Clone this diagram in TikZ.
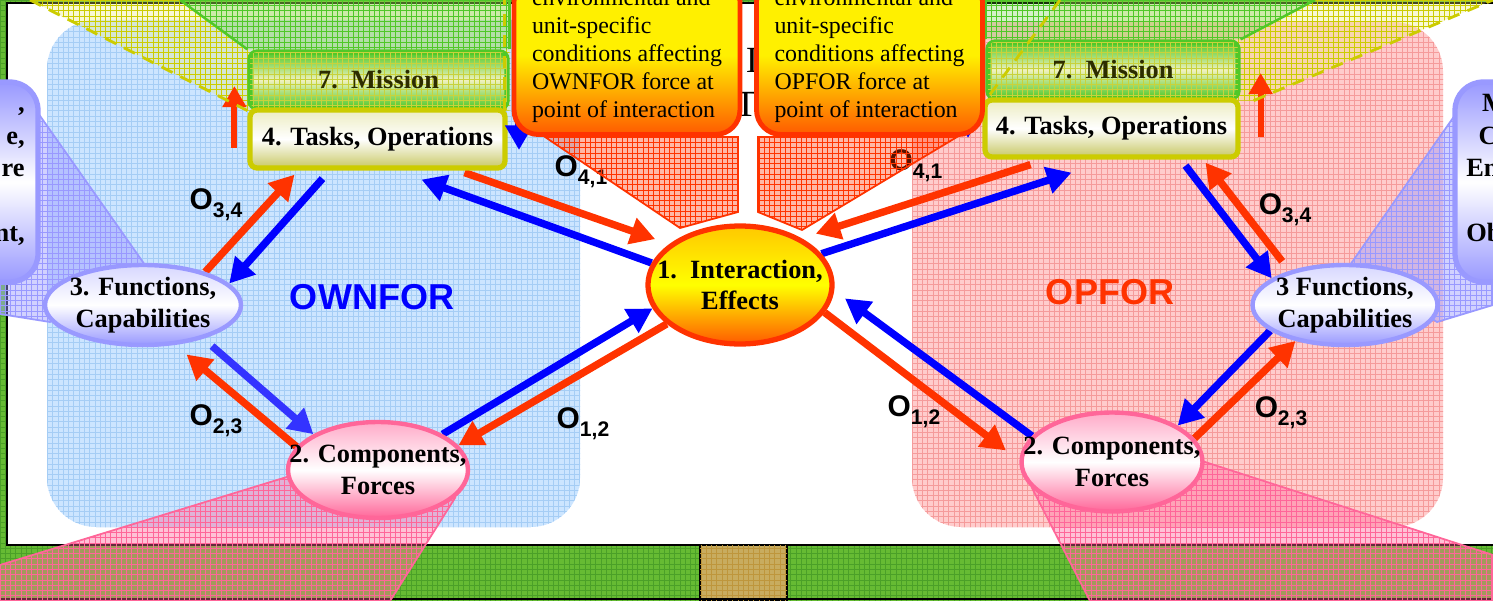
\documentclass[tikz,border=0pt]{standalone}
\usepackage{fontspec}
\setmainfont{Liberation Serif}
\setsansfont{Liberation Sans}
\usetikzlibrary{arrows.meta,shapes.geometric,patterns}
\definecolor{ofred}{RGB}{255,51,0}
\definecolor{ofblue}{RGB}{0,0,255}
\definecolor{ofblueb}{RGB}{51,51,255}
\definecolor{ownfill}{RGB}{204,229,255}
\definecolor{owngrid}{RGB}{165,205,245}
\definecolor{opfill}{RGB}{255,204,204}
\definecolor{opgrid}{RGB}{245,155,155}
\definecolor{lav}{RGB}{153,153,255}
\definecolor{lavlight}{RGB}{215,215,255}
\definecolor{pinkb}{RGB}{255,102,153}
\definecolor{pinkl}{RGB}{255,170,200}
\definecolor{olivebd}{RGB}{204,204,0}
\definecolor{olivetop}{RGB}{236,236,192}
\definecolor{olivebot}{RGB}{200,200,100}
\definecolor{missgreen}{RGB}{80,200,40}
\definecolor{missmid}{RGB}{240,242,190}
\definecolor{missgrid}{RGB}{200,210,60}
\definecolor{misstext}{RGB}{45,45,0}
\definecolor{barg}{RGB}{102,187,51}
\definecolor{bargrid}{RGB}{75,160,40}
\definecolor{bartan}{RGB}{200,172,95}
\definecolor{bartangrid}{RGB}{190,150,60}
\definecolor{intop}{RGB}{255,200,0}
\definecolor{inbot}{RGB}{255,90,0}
\definecolor{noteyel}{RGB}{255,240,0}
\definecolor{ylw}{RGB}{235,235,110}
\pgfdeclarelayer{back}
\pgfdeclarelayer{arw}
\pgfdeclarelayer{front}
\pgfsetlayers{back,arw,main,front}
\newcommand{\olab}[1]{\sffamily\bfseries\fontsize{17}{17}\selectfont O\raisebox{-4.5pt}{\fontsize{12}{12}\selectfont #1}}
\newcommand{\zw}[1]{\makebox[0pt]{#1}}

\begin{document}
\begin{tikzpicture}[x=0.02cm, y=-0.02cm,
  arr/.style={line width=4.2pt, -{Triangle[length=14pt,width=15pt]}},
  redarr/.style={arr, draw=ofred},
  bluearr/.style={arr, draw=ofblue},
  uparr/.style={line width=3.5pt, draw=ofred, -{Triangle[length=12pt,width=13pt]}},
  grid fill/.style 2 args={fill=#1, postaction={pattern=grid, pattern color=#2}},
  bubble/.style={ellipse, inner sep=0pt, align=center, line width=2.5pt,
                 font=\fontsize{15}{18}\selectfont\bfseries},
  funcstyle/.style={draw=lav, top color=lavlight, bottom color=lav, middle color=white},
  compstyle/.style={draw=pinkb, top color=pinkl, bottom color=pinkb, middle color=white},
  missbox/.style={rectangle, rounded corners=4pt, draw=missgreen, line width=3pt,
                  top color=missgreen, bottom color=missgreen, middle color=missmid,
                  postaction={pattern=grid, pattern color=missgrid},
                  text=misstext, inner sep=0pt, font=\fontsize{15}{18}\selectfont\bfseries},
  taskbox/.style={rectangle, rounded corners=4pt, draw=olivebd, line width=3pt,
                  top color=olivetop, bottom color=olivebot, middle color=white,
                  inner sep=0pt, font=\fontsize{15}{18}\selectfont\bfseries},
  sidebox/.style={rectangle, rounded corners=16pt, draw=lav, line width=3pt,
                  top color=lav, bottom color=lav, middle color=white},
  sidetext/.style={inner sep=0pt, font=\fontsize{15}{18.4}\selectfont\bfseries},
  callout/.style={rectangle, rounded corners=14pt, draw=ofred, line width=2.8pt,
                  top color=noteyel, bottom color=inbot, middle color=noteyel,
                  align=left, minimum width=4.52cm, inner ysep=7pt,
                  font=\fontsize{13.6}{15.9}\selectfont},
  oname/.style={inner sep=0pt},
  sidename/.style={font=\sffamily\bfseries\fontsize{20.5}{20.5}\selectfont},
  ptrlav/.style={draw=lav, line width=1pt, fill=lav, fill opacity=.45,
                 postaction={pattern=grid, pattern color=lav, fill opacity=.6}},
  ptrpink/.style={draw=pinkb, line width=1pt, fill=pinkb, fill opacity=.4,
                  postaction={pattern=grid, pattern color=pinkb, fill opacity=.6}},
  ptrred/.style={draw=ofred, line width=1pt, fill=ofred, fill opacity=.35,
                 postaction={pattern=grid, pattern color=ofred, fill opacity=.5}},
  ptrylw/.style={fill=ylw, fill opacity=.3,
                 postaction={pattern=grid, pattern color=olivebd, fill opacity=.35}},
  ptrgrn/.style={fill=missgreen, fill opacity=.25,
                 postaction={pattern=grid, pattern color=missgreen, fill opacity=.35}},
  dashedge/.style={draw=olivebd, line width=1.6pt, dashed, dash pattern=on 7pt off 5pt},
  grnedge/.style={draw=missgreen, line width=1.4pt}]

\useasboundingbox (0,0) rectangle (1493,601);
\coordinate (top) at (0,0);

% levels
\node[bubble, draw=ofred, line width=3pt, top color=intop, bottom color=inbot, middle color=yellow,
      minimum width=3.68cm, minimum height=2.36cm] (inter) at (740,285) {\zw{1.~~Interaction,}\\\zw{Effects}};
\node[bubble, funcstyle, minimum width=3.92cm, minimum height=1.6cm] (funcL) at (143,305) {\zw{3. Functions,}\\\zw{Capabilities}};
\node[bubble, funcstyle, minimum width=3.7cm, minimum height=1.6cm] (funcR) at (1345,305) {\zw{3 Functions,}\\\zw{Capabilities}};
\node[bubble, compstyle, minimum width=3.6cm, minimum height=1.92cm] (compL) at (378,470) {\zw{2. Components,}\\\zw{Forces}};
\node[bubble, compstyle, minimum width=3.62cm, minimum height=1.98cm] (compR) at (1112,462) {\zw{2. Components,}\\\zw{Forces}};
\node[missbox, minimum width=5.14cm, minimum height=1.12cm] (missL) at (378.5,80) {7.~~Mission};
\node[taskbox, minimum width=5.1cm, minimum height=1.16cm] (taskL) at (377.5,139) {4. Tasks, Operations};
\node[missbox, minimum width=5cm, minimum height=1.12cm] (missR) at (1113,70) {7.~~Mission};
\node[taskbox, minimum width=5.06cm, minimum height=1.14cm] (taskR) at (1111.5,128.5) {4. Tasks, Operations};

\begin{pgfonlayer}{back}
\path[grid fill={barg}{bargrid}] (0,0) rectangle (1493,601);
\draw[line width=1.2pt, fill=white] (7,3) rectangle (1520,545);
\draw[line width=1.2pt, grid fill={bartan}{bartangrid}] (700,545) rectangle (787,601);
\draw[line width=1.2pt] (0,599) -- (1493,599);
\path[grid fill={ownfill}{owngrid}, rounded corners=28pt] (47,20) rectangle (580,527);
\path[grid fill={opfill}{opgrid}, rounded corners=28pt] (912,22) rectangle (1443,527);
\node[sidename, text=ofblue] (own) at (372,297) {OWNFOR};
\node[sidename, text=ofred] (opp) at (1110,292) {OPFOR};
\path[ptrlav] (38,113) -- (145,265) -- (50,322) -- (0,314) -- (0,282) -- cycle;
\path[ptrlav] (1455,115) -- (1350,265) -- (1437,322) -- (1493,305) -- (1493,282) -- cycle;
\path[ptrpink] (290,476) -- (0,565) -- (0,601) -- (390,601) -- (455,498) -- cycle;
\path[ptrpink] (1032,488) -- (1090,601) -- (1493,601) -- (1493,555) -- (1205,462) -- cycle;
\node[sidebox, minimum width=2cm, minimum height=4cm] (infoL) at (-12,182) {};
\node[sidebox, minimum width=2cm, minimum height=4cm] (infoR) at (1505,182) {};
\node[sidetext, anchor=north east, align=right] (infoLtxt) at (25,89)
  {\strut,\\\strut e,\\\strut re\\\strut\\\strut nt,};
\node[sidetext, anchor=north west, align=left] (infoRtxt) at (1466,89)
  {\strut\hspace*{9pt}M\\\strut\hspace*{7pt}C\\\strut En\\\strut\\\strut Ob};
\end{pgfonlayer}

\begin{pgfonlayer}{arw}
% callouts of the mission boxes
\path[ptrylw] (30,0) -- (missL.south west) -- (missL.south east) -- (missL.south east |- top) -- cycle;
\path[ptrgrn] (180,0) -- (missL.north west) -- (missL.north east) -- (missL.north east |- top) -- cycle;
\path[ptrylw] (1060,0) -- (missR.south west) -- ([shift={(13,0)}]missR.south east) -- (1493,0) -- cycle;
\path[ptrgrn] (missR.north west |- top) -- (missR.north west) -- (missR.north east) -- (1315,0) -- cycle;
% OWNFOR
\draw[redarr] (funcL.28) -- ([shift={(-83,4)}]taskL.south);
\draw[bluearr] ([shift={(-55,8)}]taskL.south) -- (funcL.14);
\draw[arr, draw=ofblueb] ([shift={(10,7)}]funcL.-30) -- (compL.151);
\draw[redarr] (compL.164) -- ([shift={(8,10)}]funcL.-48);
\draw[bluearr] (compL.29) -- (inter.-165);
\draw[redarr] (inter.-152) -- (compL.17);
\draw[redarr] ([shift={(87,2)}]taskL.south) -- ([shift={(-14,-5)}]inter.150);
\draw[bluearr] (inter.166) -- ([shift={(44,9)}]taskL.south);
% OPFOR
\draw[redarr] ([shift={(-81,5)}]taskR.south) -- ([shift={(10,-7)}]inter.34);
\draw[bluearr] (inter.21) -- ([shift={(-40,13)}]taskR.south);
\draw[bluearr] ([shift={(74,6)}]taskR.south) -- (funcR.160);
\draw[redarr] ([shift={(-12,-8)}]funcR.145) -- ([shift={(94,3)}]taskR.south);
\draw[bluearr] (funcR.-161) -- (compR.29);
\draw[redarr] (compR.16) -- (funcR.-144);
\draw[redarr] (inter.-18) -- ([shift={(-15,-2)}]compR.174);
\draw[bluearr] (compR.162) -- ([shift={(12,2)}]inter.-7);
\end{pgfonlayer}

\begin{pgfonlayer}{front}
\node[oname] (o34L) at (216,205) {\olab{3,4}};
\node[oname] (o23L) at (216,421) {\olab{2,3}};
\node[oname] (o12L) at (583,424) {\olab{1,2}};
\node[oname] (o41L) at (581,172) {\olab{4,1}};
\node[oname] (o41R) at (916,166) {\olab{4,1}};
\node[oname] (o34R) at (1285,210) {\olab{3,4}};
\node[oname] (o23R) at (1281,413) {\olab{2,3}};
\node[oname] (o12R) at (914,412) {\olab{1,2}};
\draw[uparr] ([shift={(-13,68)}]missL.west) -- ([shift={(-13,6)}]missL.west);
\draw[uparr] ([shift={(20,67)}]missR.east) -- ([shift={(20,3)}]missR.east);
\draw[dashedge] (30,0) -- (missL.south west);
\draw[dashedge] ([xshift=-3pt]missL.south east) -- ([xshift=-3pt]missL.south east |- top);
\draw[grnedge] (180,0) -- (missL.north west);
\draw[grnedge] (missL.north east) -- (missL.north east |- top);
\draw[dashedge] (1060,0) -- (missR.south west);
\draw[dashedge] ([shift={(13,0)}]missR.south east) -- (1493,0);
\draw[grnedge] (missR.north west |- top) -- (missR.north west);
\draw[grnedge] (missR.north east) -- (1315,0);
% partly hidden arrows and title
\coordinate (hidL) at (519,80);
\coordinate (hidR) at (968,70);
\draw[bluearr] (hidL) -- (519,150);
\draw[bluearr] (hidR) -- (968,138);
\node[font=\fontsize{21}{21}\selectfont] (ttlA) at (752,60) {I};
\node[font=\fontsize{21}{21}\selectfont] (ttlB) at (746,104) {T};
% condition notes
\path[ptrred] (545,137) -- (680,228) -- (738,212) -- (738,137) -- cycle;
\path[ptrred] (758,137) -- (758,212) -- (802,230) -- (957,137) -- cycle;
\node[callout, anchor=south] (noteL) at (627,137)
  {environmental and\\unit-specific\\conditions affecting\\OWNFOR force at\\point of interaction};
\node[callout, anchor=south] (noteR) at (869.5,137)
  {environmental and\\unit-specific\\conditions affecting\\OPFOR force at\\point of interaction};
\end{pgfonlayer}
\end{tikzpicture}
\end{document}
